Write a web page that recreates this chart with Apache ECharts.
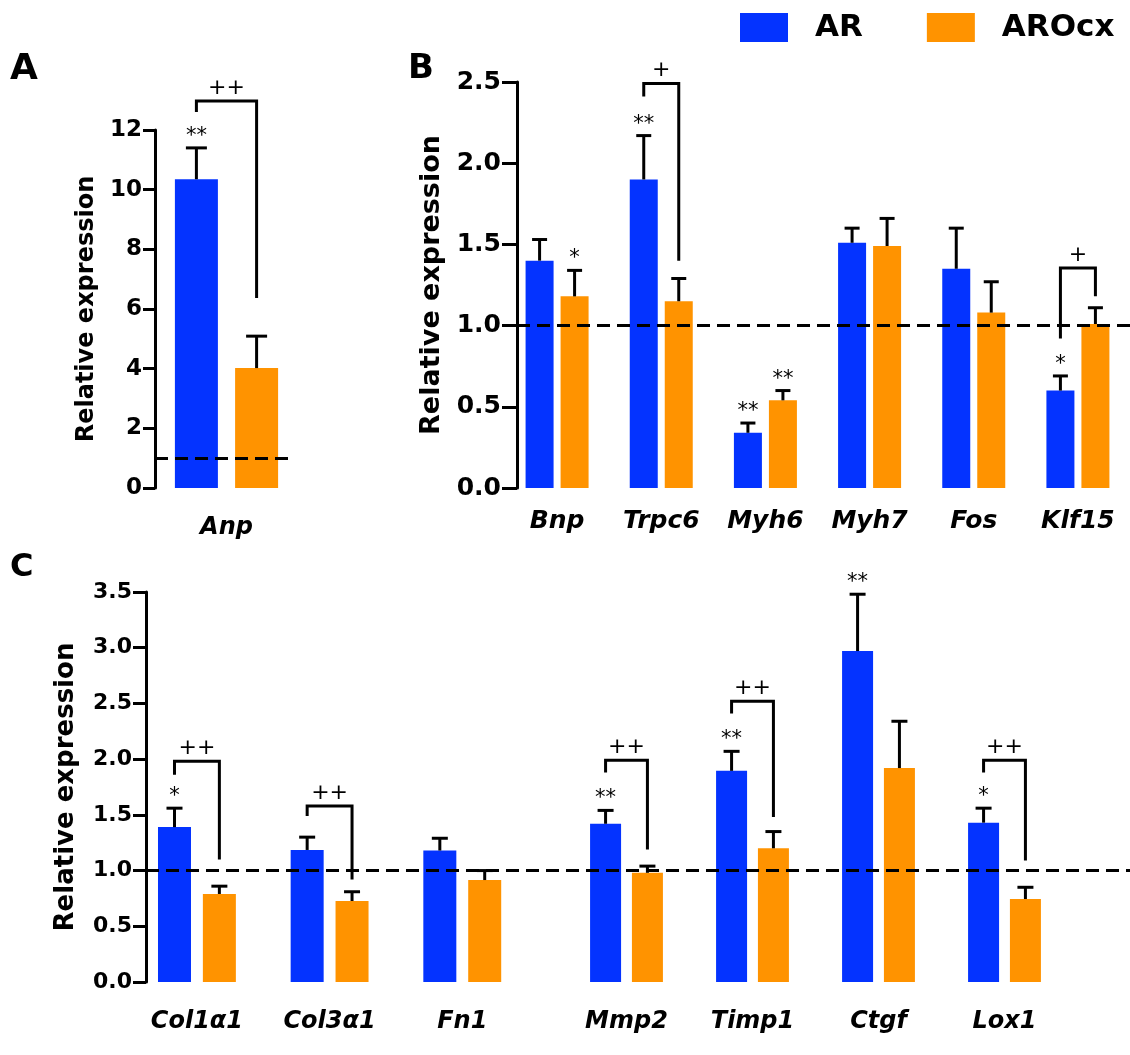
<!DOCTYPE html>
<html>
<head>
<meta charset="utf-8">
<script src="https://cdn.jsdelivr.net/npm/echarts@6/dist/echarts.min.js"></script>
<style>
  html, body { margin: 0; padding: 0; background: #fff; }
  #main { width: 1130px; height: 1055px; }
</style>
</head>
<body>
<div id="main"></div>
<script>
// ---- Panel A ----
var catsA = ['Anp'];
var arA = [10.35];
var arErrA = [1.05];
var ocxA = [4.02];
var ocxErrA = [1.07];
var arStarsA = ['**'];
var ocxStarsA = [''];
// [category index, left leg bottom, bracket top, right leg bottom]
var bracketsA = [[0, 12.6, 12.97, 6.37]];
var bracketTextA = ['++'];

// ---- Panel B ----
var catsB = ['Bnp', 'Trpc6', 'Myh6', 'Myh7', 'Fos', 'Klf15'];
var arB = [1.40, 1.90, 0.34, 1.51, 1.35, 0.60];
var arErrB = [0.13, 0.27, 0.06, 0.09, 0.25, 0.09];
var ocxB = [1.18, 1.15, 0.54, 1.49, 1.08, 1.01];
var ocxErrB = [0.16, 0.14, 0.06, 0.17, 0.19, 0.10];
var arStarsB = ['', '**', '**', '', '', '*'];
var ocxStarsB = ['*', '', '**', '', '', ''];
var bracketsB = [[1, 2.41, 2.49, 1.40], [5, 0.92, 1.355, 1.18]];
var bracketTextB = ['+', '+'];

// ---- Panel C ----
var catsC = ['Col1\u03b11', 'Col3\u03b11', 'Fn1', 'Mmp2', 'Timp1', 'Ctgf', 'Lox1'];
var arC = [1.39, 1.185, 1.18, 1.42, 1.895, 2.97, 1.43];
var arErrC = [0.17, 0.115, 0.11, 0.12, 0.175, 0.51, 0.13];
var ocxC = [0.79, 0.727, 0.915, 0.98, 1.20, 1.92, 0.745];
var ocxErrC = [0.07, 0.083, 0.085, 0.06, 0.15, 0.42, 0.105];
var arStarsC = ['*', '', '', '**', '**', '**', '*'];
var ocxStarsC = ['', '', '', '', '', '', ''];
var bracketsC = [[0, 1.86, 1.98, 1.10], [1, 1.49, 1.58, 0.92], [3, 1.88, 1.99, 1.19],
                 [4, 2.41, 2.52, 1.48], [6, 1.88, 1.99, 1.09]];
var bracketTextC = ['++', '++', '++', '++', '++'];
var splitC = 3; // first three genes sit in a slightly wider block

var FONT = '"DejaVu Sans", "Liberation Sans", Arial, sans-serif';
var BLUE = '#0433ff';
var ORANGE = '#ff9300';

function errSeries(gi, name, means, errs, stars, shift, capW) {
  return {
    type: 'custom', name: name, xAxisIndex: gi, yAxisIndex: gi, silent: true, z: 5,
    data: means.map(function (m, i) { return [i, m, errs[i]]; }),
    encode: { x: 0, y: 1 },
    renderItem: function (params, api) {
      var i = api.value(0);
      var base = api.coord([i, api.value(1)]);
      var top = api.coord([i, api.value(1) + api.value(2)]);
      var x = base[0] + shift;
      var kids = [
        { type: 'line', shape: { x1: x, y1: base[1], x2: x, y2: top[1] }, style: { stroke: '#000', lineWidth: 3 } },
        { type: 'line', shape: { x1: x - capW / 2, y1: top[1], x2: x + capW / 2, y2: top[1] }, style: { stroke: '#000', lineWidth: 3 } }
      ];
      var s = stars[params.dataIndex];
      if (s) {
        kids.push({ type: 'text', style: { text: s, x: x, y: top[1] - 1, align: 'center', verticalAlign: 'bottom',
          font: 'normal 21px ' + FONT, fill: '#000' } });
      }
      return { type: 'group', children: kids };
    }
  };
}

function bracketSeries(gi, brackets, texts, shift) {
  return {
    type: 'custom', xAxisIndex: gi, yAxisIndex: gi, silent: true, z: 6,
    data: brackets,
    encode: { x: 0, y: [1, 2, 3] },
    renderItem: function (params, api) {
      var i = api.value(0);
      var c = api.coord([i, api.value(2)]);
      var yL = api.coord([i, api.value(1)])[1];
      var yR = api.coord([i, api.value(3)])[1];
      var xL = c[0] - shift, xR = c[0] + shift;
      return { type: 'group', children: [
        { type: 'polyline', shape: { points: [[xL, yL], [xL, c[1]], [xR, c[1]], [xR, yR]] },
          style: { stroke: '#000', lineWidth: 3, fill: null, lineJoin: 'miter' } },
        { type: 'text', style: { text: texts[params.dataIndex], x: (xL + xR) / 2, y: c[1] - 2,
          align: 'center', verticalAlign: 'bottom', font: 'normal 22px ' + FONT, fill: '#000' } }
      ] };
    }
  };
}

function dashLine(x1, x2) {
  return {
    silent: true, symbol: ['none', 'none'], animation: false,
    label: { show: false },
    lineStyle: { color: '#000', width: 3, type: [13, 7] },
    data: [[{ coord: [0, 1], x: x1 }, { coord: [0, 1], x: x2 }]]
  };
}

// layout of each grid: left, top, width, height, bar width, bar gap ratio, y axis offset
var panels = [
  { left: 155, top: 130, width: 143, height: 358, bw: 43, gap: 0.40, off: 0, cap: 21 },
  { left: 505, top: 82, width: 625, height: 406, bw: 28, gap: 0.25, off: -12, cap: 15 },
  { left: 130.6, top: 592, width: 398, height: 390, bw: 33, gap: 0.36, off: -15.4, cap: 16 },
  { left: 563.5, top: 592, width: 504, height: 390, bw: 31, gap: 0.35, off: 0, cap: 16 }
];

var catsList = [catsA, catsB, catsC.slice(0, splitC), catsC.slice(splitC)];
var yMax = [12, 2.5, 3.5, 3.5];
var yStep = [2, 0.5, 0.5, 0.5];

var grids = panels.map(function (p) {
  return { left: p.left, top: p.top, width: p.width, height: p.height, outerBoundsMode: 'none' };
});

var xAxes = catsList.map(function (c, gi) {
  return {
    type: 'category', gridIndex: gi, data: c,
    axisLine: { show: false }, axisTick: { show: false },
    axisLabel: { interval: 0, margin: gi === 0 ? 28 : (gi === 1 ? 21 : 28), color: '#000',
      fontFamily: FONT, fontWeight: 'bold', fontStyle: 'italic', fontSize: gi === 1 ? 25 : 24 }
  };
});

var yNames = [
  { gap: 56, size: 24, label: 23, tick: 12 },
  { gap: 72, size: 27, label: 25, tick: 15 },
  { gap: 67, size: 26, label: 22, tick: 13 },
  null
];

var yAxes = panels.map(function (p, gi) {
  var n = yNames[gi];
  return {
    type: 'value', gridIndex: gi, min: 0, max: yMax[gi], interval: yStep[gi],
    show: n !== null, offset: p.off,
    name: n ? 'Relative expression' : '', nameLocation: 'middle', nameRotate: 90,
    nameGap: n ? n.gap : 0,
    nameTextStyle: { color: '#000', fontFamily: FONT, fontWeight: 'bold', fontSize: n ? n.size : 12 },
    axisLine: { show: true, lineStyle: { color: '#000', width: 3 } },
    axisTick: { show: true, length: n ? n.tick : 0, lineStyle: { color: '#000', width: 3 } },
    splitLine: { show: false },
    axisLabel: { color: '#000', fontFamily: FONT, fontWeight: 'bold', fontSize: n ? n.label : 12,
      margin: n ? n.tick + 1 : 0,
      formatter: function (v) { return gi === 0 ? String(v) : v.toFixed(1); } }
  };
});

var groups = [
  { ar: arA, arE: arErrA, ocx: ocxA, ocxE: ocxErrA, arS: arStarsA, ocxS: ocxStarsA, br: bracketsA, brT: bracketTextA },
  { ar: arB, arE: arErrB, ocx: ocxB, ocxE: ocxErrB, arS: arStarsB, ocxS: ocxStarsB, br: bracketsB, brT: bracketTextB },
  { ar: arC.slice(0, splitC), arE: arErrC.slice(0, splitC), ocx: ocxC.slice(0, splitC), ocxE: ocxErrC.slice(0, splitC),
    arS: arStarsC.slice(0, splitC), ocxS: ocxStarsC.slice(0, splitC),
    br: bracketsC.filter(function (b) { return b[0] < splitC; }),
    brT: bracketTextC.filter(function (t, k) { return bracketsC[k][0] < splitC; }) },
  { ar: arC.slice(splitC), arE: arErrC.slice(splitC), ocx: ocxC.slice(splitC), ocxE: ocxErrC.slice(splitC),
    arS: arStarsC.slice(splitC), ocxS: ocxStarsC.slice(splitC),
    br: bracketsC.filter(function (b) { return b[0] >= splitC; }).map(function (b) { return [b[0] - splitC, b[1], b[2], b[3]]; }),
    brT: bracketTextC.filter(function (t, k) { return bracketsC[k][0] >= splitC; }) }
];

var dashes = [dashLine(155, 290), dashLine(517, 1130), dashLine(146, 1130), null];

var series = [];
groups.forEach(function (g, gi) {
  var p = panels[gi];
  var shift = p.bw * (1 + p.gap) / 2;
  var arBar = {
    type: 'bar', name: 'AR', xAxisIndex: gi, yAxisIndex: gi, data: g.ar,
    barWidth: p.bw, barGap: Math.round(p.gap * 100) + '%',
    itemStyle: { color: BLUE }, silent: true
  };
  if (dashes[gi]) arBar.markLine = dashes[gi];
  series.push(arBar);
  series.push({
    type: 'bar', name: 'AROcx', xAxisIndex: gi, yAxisIndex: gi, data: g.ocx,
    barWidth: p.bw, barGap: Math.round(p.gap * 100) + '%',
    itemStyle: { color: ORANGE }, silent: true
  });
  series.push(errSeries(gi, 'errAR', g.ar, g.arE, g.arS, -shift, p.cap));
  series.push(errSeries(gi, 'errOcx', g.ocx, g.ocxE, g.ocxS, shift, p.cap));
  series.push(bracketSeries(gi, g.br, g.brT, shift));
});

var myChart = echarts.init(document.getElementById('main'), null, { renderer: 'canvas' });
myChart.setOption({
  animation: false,
  backgroundColor: '#fff',
  title: [
    { text: 'A', left: 10, top: 52, padding: 0, textStyle: { fontFamily: FONT, fontWeight: 'bold', fontSize: 36, color: '#000' } },
    { text: 'B', left: 408, top: 52, padding: 0, textStyle: { fontFamily: FONT, fontWeight: 'bold', fontSize: 34, color: '#000' } },
    { text: 'C', left: 10, top: 552, padding: 0, textStyle: { fontFamily: FONT, fontWeight: 'bold', fontSize: 32, color: '#000' } }
  ],
  legend: {
    data: ['AR', 'AROcx'], left: 740, top: 12, icon: 'rect', itemWidth: 48, itemHeight: 29, itemGap: 64,
    selectedMode: false, padding: 0,
    textStyle: { fontFamily: FONT, fontWeight: 'bold', fontSize: 31, color: '#000', padding: [0, 0, 0, 22] }
  },
  grid: grids,
  xAxis: xAxes,
  yAxis: yAxes,
  series: series
});

window.addEventListener('resize', function () {
  myChart.resize();
});
</script>
</body>
</html>
